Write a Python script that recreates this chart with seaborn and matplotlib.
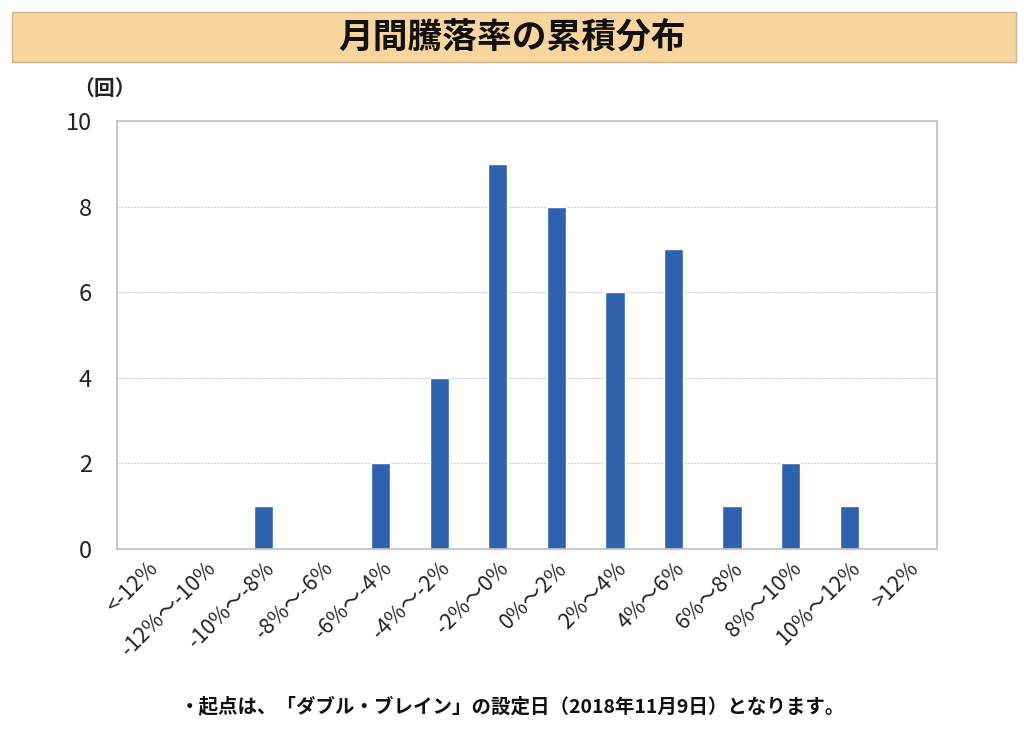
import matplotlib
matplotlib.use("Agg")
import matplotlib.pyplot as plt
import seaborn as sns
import pandas as pd
from matplotlib.patches import Rectangle

# 月間騰落率の階級と回数
categories = ["<-12%", "-12%～-10%", "-10%～-8%", "-8%～-6%", "-6%～-4%",
              "-4%～-2%", "-2%～0%", "0%～2%", "2%～4%", "4%～6%",
              "6%～8%", "8%～10%", "10%～12%", ">12%"]
counts = [0, 0, 1, 0, 2, 4, 9, 8, 6, 7, 1, 2, 1, 0]
y_ticks = [0, 2, 4, 6, 8, 10]

title = "月間騰落率の累積分布"
unit_label = "（回）"
footnote = "・起点は、「ダブル・ブレイン」の設定日（2018年11月9日）となります。"

sns.set_theme(style="white")
plt.rcParams['font.family'] = ['Noto Sans CJK JP', 'DejaVu Sans']

df = pd.DataFrame({"range": categories, "count": counts})

fig = plt.figure(figsize=(10.24, 7.41), dpi=100)
fig.patch.set_facecolor("white")

# title band
band = Rectangle((0.0117, 0.9163), 0.9805, 0.0675, transform=fig.transFigure,
                 facecolor="#F8D59C", edgecolor="#C9B48E", linewidth=1.0)
fig.patches.append(band)
fig.text(0.5, 0.950, title, ha="center", va="center", fontsize=25,
         fontweight="bold", color="#111111")

ax = fig.add_axes([0.1143, 0.2591, 0.8008, 0.5776])
sns.barplot(data=df, x="range", y="count", color="#2F62AE", width=0.33,
            saturation=1, ax=ax)

ax.set_ylim(0, 10)
ax.set_yticks(y_ticks)
ax.set_xlim(-0.5, len(categories) - 0.5)
ax.yaxis.grid(True, color="#D0D0D0", linewidth=0.8, linestyle=(0, (2, 1)))
ax.set_axisbelow(True)
for s in ax.spines.values():
    s.set_color("#BFBFBF")
    s.set_linewidth(1.2)
ax.set_xlabel("")
ax.set_ylabel("")
ax.tick_params(axis="y", labelsize=17, colors="#222222", length=0, pad=18)
ax.tick_params(axis="x", labelsize=15.5, colors="#222222", length=0, pad=6)
plt.setp(ax.get_xticklabels(), rotation=45, ha="right", rotation_mode="anchor")

fig.text(0.072, 0.880, unit_label, ha="left", va="center", fontsize=15,
         fontweight="bold", color="#222222")
fig.text(0.5, 0.047, footnote, ha="center", va="center", fontsize=14,
         fontweight="bold", color="#111111")

fig.savefig("out.png", dpi=100)
